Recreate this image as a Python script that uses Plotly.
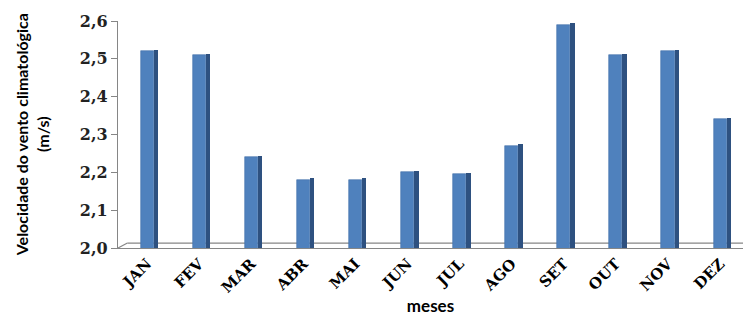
import plotly.graph_objects as go

meses = ["JAN", "FEV", "MAR", "ABR", "MAI", "JUN", "JUL", "AGO", "SET", "OUT", "NOV", "DEZ"]
velocidade = [2.52, 2.51, 2.24, 2.18, 2.18, 2.20, 2.195, 2.27, 2.59, 2.51, 2.52, 2.34]
y_ticks = [2.0, 2.1, 2.2, 2.3, 2.4, 2.5, 2.6]
y_tick_text = ["2,0", "2,1", "2,2", "2,3", "2,4", "2,5", "2,6"]

axis_gray = "#868686"
front_blue = "#4F81BD"
side_blue = "#2E5180"

fig = go.Figure()

# front face of each column
fig.add_trace(go.Bar(
    x=meses, y=velocidade, base=0,
    width=0.25, offset=-0.125,
    marker=dict(color=front_blue, line=dict(color="#3F6FA8", width=0.6)),
    showlegend=False, hoverinfo="x+y",
))
# darker side face for the 3-D look
fig.add_trace(go.Bar(
    x=meses, y=[v + 0.004 for v in velocidade], base=0,
    width=0.085, offset=0.125,
    marker=dict(color=side_blue, line=dict(width=0)),
    showlegend=False, hoverinfo="skip",
))

# floor of the 3-D plot area
floor_back = 2.013
fig.add_shape(type="line", xref="paper", yref="y", x0=0.015, x1=1.0, y0=floor_back, y1=floor_back,
              line=dict(color=axis_gray, width=1.2), layer="below")
fig.add_shape(type="line", xref="paper", yref="y", x0=0.0, x1=0.015, y0=2.0, y1=floor_back,
              line=dict(color=axis_gray, width=1.2), layer="below")

fig.update_layout(
    width=743, height=322,
    margin=dict(l=118, r=0, t=21, b=74),
    paper_bgcolor="white", plot_bgcolor="white",
    barmode="overlay",
    bargap=0,
    xaxis=dict(
        type="category",
        range=[-0.56, 11.44],
        showline=True, linecolor=axis_gray, linewidth=1.2,
        showgrid=False, ticks="", tickangle=-45,
        tickfont=dict(family="DejaVu Serif", size=15, color="black", weight="bold"),
        title=dict(text="meses", font=dict(family="Lato", size=17, color="black", weight="bold"), standoff=4),
    ),
    yaxis=dict(
        range=[2.0, 2.6],
        tickvals=y_ticks, ticktext=y_tick_text,
        showline=True, linecolor=axis_gray, linewidth=1.2,
        showgrid=False, zeroline=False,
        ticks="outside", ticklen=6, tickcolor=axis_gray, tickwidth=1.2,
        tickfont=dict(family="DejaVu Serif", size=16, color="#222222", weight="bold"),
    ),
    annotations=[dict(
        text="Velocidade do vento climatológica<br>(m/s)",
        xref="paper", yref="paper", x=-0.138, y=0.5,
        xanchor="center", yanchor="middle", textangle=-90, showarrow=False,
        font=dict(family="Lato", size=16, color="black", weight="bold"),
    )],
)

fig.write_html("out.html")
